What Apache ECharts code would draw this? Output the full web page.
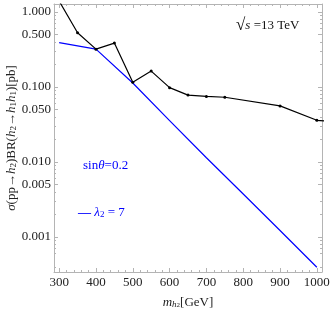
<!DOCTYPE html>
<html><head><meta charset="utf-8">
<script src="https://cdn.jsdelivr.net/npm/echarts@6/dist/echarts.min.js"></script>
<style>html,body{margin:0;padding:0;background:#fff}#c{width:332px;height:313px}</style>
</head><body><div id="c"></div>
<script>
// data
const blackMasses = [300, 350, 400, 450, 500, 550, 600, 650, 700, 750, 900, 1000, 1050];
const blackValues = [1.4, 0.53, 0.32, 0.385, 0.1155, 0.163, 0.098, 0.078, 0.075, 0.073, 0.056, 0.036, 0.0345];
const blueMasses = [300, 400, 500, 600, 700, 800, 900, 1000];
const blueValues = [0.39, 0.32, 0.113, 0.0357, 0.0114, 0.00374, 0.00122, 0.000394];
const xTicks = [300, 400, 500, 600, 700, 800, 900, 1000];
const xMinor = [320,340,360,380,420,440,460,480,520,540,560,580,620,640,660,680,720,740,760,780,820,840,860,880,920,940,960,980];
const yTicks = [0.001, 0.005, 0.01, 0.05, 0.1, 0.5, 1];
const yMinor = [0.0004,0.0006,0.0007,0.0008,0.0009,0.002,0.003,0.004,0.006,0.007,0.008,0.009,0.02,0.03,0.04,0.06,0.07,0.08,0.09,0.2,0.3,0.4,0.6,0.7,0.8,0.9];

const X_MIN = 286, X_MAX = 1014, Y_MIN = 0.000341, Y_MAX = 1.28;
const FONT = 'Liberation Serif';
const FRAME = '#b4b4b4';
const BLUE = '#0000ff';

function xAx(pos, ticks, len, labels, line, extra) {
  return Object.assign({
    type: 'value', position: pos, min: X_MIN, max: X_MAX,
    axisLine: {show: line, onZero: false, lineStyle: {color: FRAME, width: 1}},
    axisTick: {show: true, inside: true, length: len, customValues: ticks, lineStyle: {color: FRAME}},
    axisLabel: labels ? {show: true, customValues: ticks, margin: 4, fontFamily: FONT, fontSize: 13, color: '#222',
      formatter: v => String(Math.round(v))} : {show: false},
    splitLine: {show: false}
  }, extra || {});
}
function yAx(pos, ticks, len, labels, line, extra) {
  return Object.assign({
    type: 'log', logBase: 10, position: pos, min: Y_MIN, max: Y_MAX,
    axisLine: {show: line, onZero: false, lineStyle: {color: FRAME, width: 1}},
    axisTick: {show: true, inside: true, length: len, customValues: ticks, lineStyle: {color: FRAME}},
    axisLabel: labels ? {show: true, customValues: ticks, margin: 3, fontFamily: FONT, fontSize: 13, color: '#222',
      formatter: v => Number(v).toFixed(3)} : {show: false},
    splitLine: {show: false}
  }, extra || {});
}

const chart = echarts.init(document.getElementById('c'), null, {renderer: 'canvas'});
chart.setOption({
  animation: false,
  backgroundColor: '#fff',
  grid: {left: 54, right: 10, top: 4, bottom: 41, containLabel: false, outerBoundsMode: 'none'},
  xAxis: [
    xAx('bottom', xTicks, 4, true, true, {
      name: '{i|m}{h|h}{s|2}[GeV]', nameLocation: 'middle', nameGap: 24, nameMoveOverlap: false,
      nameTextStyle: {fontFamily: FONT, fontSize: 13, color: '#222',
        rich: {
          i: {fontFamily: FONT, fontStyle: 'italic', fontSize: 13, color: '#222'},
          h: {fontFamily: FONT, fontStyle: 'italic', fontSize: 9, color: '#222', verticalAlign: 'bottom', lineHeight: 10},
          s: {fontFamily: FONT, fontSize: 7, color: '#222', verticalAlign: 'bottom', lineHeight: 6}
        }}
    }),
    xAx('bottom', xMinor, 2, false, false),
    xAx('top', xTicks, 4, false, true),
    xAx('top', xMinor, 2, false, false)
  ],
  yAxis: [
    yAx('left', yTicks, 4, true, true, {
      name: '{i|σ}(pp→{i|h}{s|2})BR({i|h}{s|2}→{i|h}{s|1}{i|h}{s|1})[pb]',
      nameLocation: 'middle', nameGap: 36, nameMoveOverlap: false,
      nameTextStyle: {fontFamily: FONT, fontSize: 13, color: '#222',
        rich: {
          i: {fontFamily: FONT, fontStyle: 'italic', fontSize: 13, color: '#222'},
          s: {fontFamily: FONT, fontSize: 9, color: '#222', verticalAlign: 'bottom', lineHeight: 9}
        }}
    }),
    yAx('left', yMinor, 2, false, false),
    yAx('right', yTicks, 4, false, true),
    yAx('right', yMinor, 2, false, false)
  ],
  series: [
    {
      type: 'line', xAxisIndex: 0, yAxisIndex: 0, clip: true,
      data: blackMasses.map((m, i) => [m, blackValues[i]]),
      lineStyle: {color: '#000', width: 1.2},
      itemStyle: {color: '#000'},
      symbol: 'circle', symbolSize: 3, showSymbol: true, z: 3
    },
    {
      type: 'line', xAxisIndex: 0, yAxisIndex: 0, clip: true,
      data: blueMasses.map((m, i) => [m, blueValues[i]]),
      lineStyle: {color: BLUE, width: 1.2},
      symbol: 'none', z: 2
    }
  ],
  graphic: [
    {type: 'text', left: 236, top: 17, z: 10, style: {
      text: '{r|√}{i|s} =13 TeV', fontFamily: FONT, fontSize: 13, fill: '#111',
      rich: {r: {fontFamily: FONT, fontSize: 17, fill: '#111'},
             i: {fontFamily: FONT, fontStyle: 'italic', fontSize: 13, fill: '#111'}}
    }},
    {type: 'text', left: 83, top: 159, z: 10, style: {
      text: 'sin{i|θ}=0.2', fontFamily: FONT, fontSize: 13, fill: BLUE,
      rich: {i: {fontFamily: FONT, fontStyle: 'italic', fontSize: 13, fill: BLUE}}
    }},
    {type: 'text', left: 78, top: 206, z: 10, style: {
      text: '{d|—} {i|λ}{s|2} = 7', fontFamily: FONT, fontSize: 13, fill: BLUE,
      rich: {d: {fontFamily: FONT, fontSize: 13, fontWeight: 'bold', fill: BLUE},
             i: {fontFamily: FONT, fontStyle: 'italic', fontSize: 13, fill: BLUE},
             s: {fontFamily: FONT, fontSize: 9, fill: BLUE, verticalAlign: 'bottom', lineHeight: 9}}
    }}
  ]
});
</script></body></html>
